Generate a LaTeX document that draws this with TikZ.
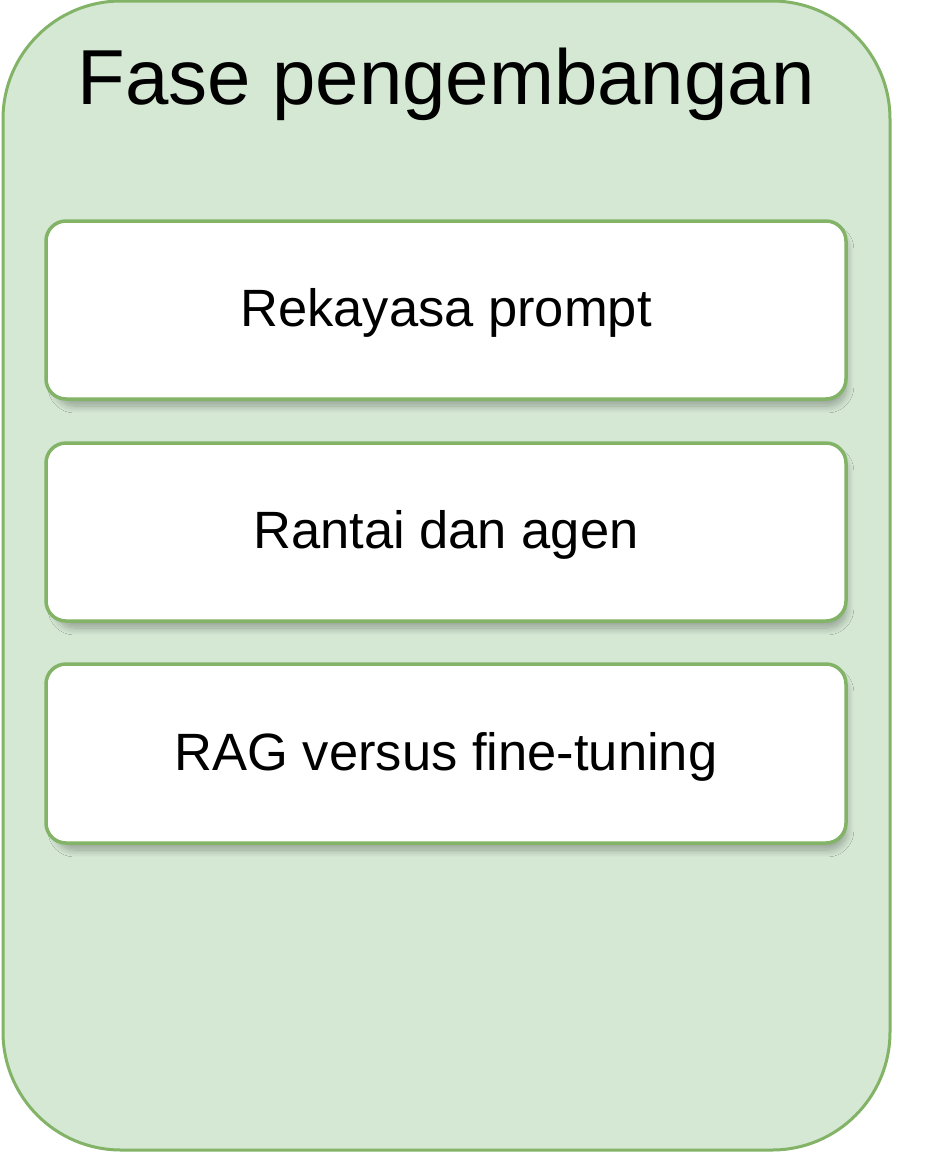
\documentclass[tikz,border=0pt]{standalone}
\usepackage{fontspec}
\setmainfont{Liberation Sans}
\usetikzlibrary{shadows.blur}
\definecolor{grfill}{HTML}{D5E8D4}
\definecolor{grline}{HTML}{82B366}
\tikzset{
  outerbox/.style={fill=grfill, draw=grline, line width=3pt, rounded corners=118pt},
  itembox/.style={fill=white, draw=grline, line width=3.5pt, rounded corners=20pt,
    blur shadow={shadow xshift=5pt, shadow yshift=-8pt, shadow scale=0.99, shadow blur steps=12, shadow blur radius=7pt, shadow opacity=30}},
  itemtext/.style={anchor=base, font=\fontsize{52.5}{60}\selectfont, inner sep=0pt},
  titletext/.style={anchor=base, font=\fontsize{78}{90}\selectfont, inner sep=0pt}
}
\begin{document}
\begin{tikzpicture}[x=1pt,y=-1pt]
\path[use as bounding box, fill=white] (0,0) rectangle (928,1152);
\path[outerbox] (3,1) rectangle (890,1150);
\node[titletext] (title) at (446,104) {Fase pengembangan};
\path[itembox] (46,221) rectangle (846,399);
\path[itembox] (46,443) rectangle (846,621);
\path[itembox] (46,664) rectangle (846,843);
\node[itemtext] (t1) at (446,326) {Rekayasa prompt};
\node[itemtext] (t2) at (446,548) {Rantai dan agen};
\node[itemtext] (t3) at (446,770) {RAG versus fine-tuning};
\end{tikzpicture}
\end{document}
